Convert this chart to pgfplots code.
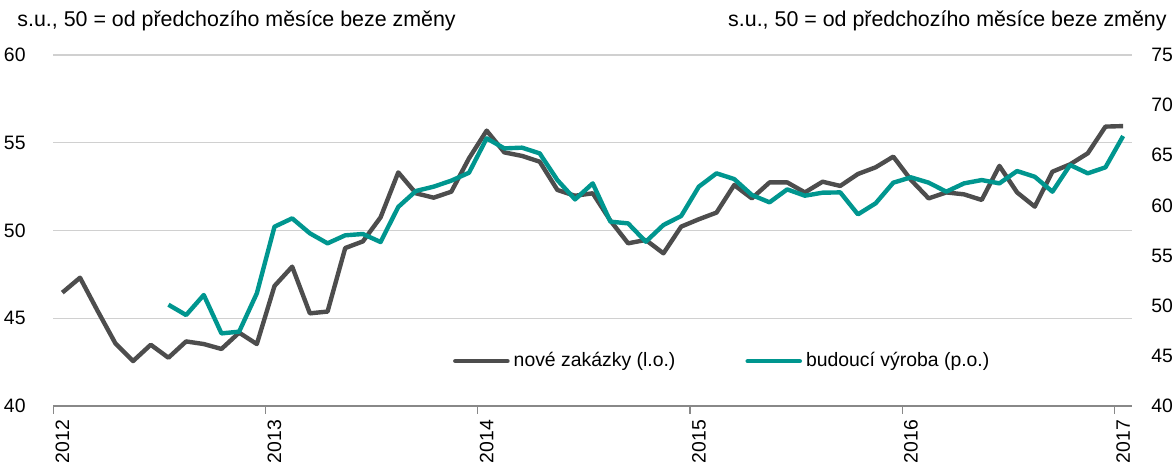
\documentclass[border=0pt]{standalone}
\usepackage{fontspec}
\setmainfont{Liberation Sans}
\usepackage{pgfplots}
\usepackage{pgfplotstable}
\pgfplotsset{compat=1.18}
\definecolor{zakGray}{HTML}{4D4D4D}
\definecolor{vyrTeal}{HTML}{00968F}
\definecolor{gridGray}{HTML}{D0D0D0}
\definecolor{axGray}{HTML}{888888}
\newcommand{\chartfont}{\fontsize{9.7}{11}\selectfont}
\newcommand{\titlefont}{\fontsize{10.7}{12}\selectfont}

% month index: 0 = leden 2012 ... 60 = leden 2017
\pgfplotstableread{
m  val
0  46.46
1  47.31
2  45.41
3  43.57
4  42.56
5  43.49
6  42.75
7  43.68
8  43.53
9  43.25
10 44.18
11 43.53
12 46.84
13 47.94
14 45.28
15 45.38
16 49.00
17 49.38
18 50.75
19 53.31
20 52.12
21 51.87
22 52.21
23 54.11
24 55.69
25 54.45
26 54.25
27 53.92
28 52.31
29 51.98
30 52.12
31 50.56
32 49.27
33 49.46
34 48.70
35 50.22
36 50.64
37 51.02
38 52.59
39 51.83
40 52.74
41 52.74
42 52.17
43 52.78
44 52.54
45 53.22
46 53.60
47 54.21
48 52.88
49 51.83
50 52.17
51 52.06
52 51.74
53 53.68
54 52.17
55 51.36
56 53.35
57 53.77
58 54.40
59 55.92
60 55.95
}\zakazky

\pgfplotstableread{
m  val
6  50.10
7  49.07
8  51.07
9  47.24
10 47.41
11 51.23
12 57.88
13 58.71
14 57.22
15 56.22
16 57.02
17 57.15
18 56.35
19 59.85
20 61.44
21 61.87
22 62.47
23 63.26
24 66.69
25 65.69
26 65.76
27 65.19
28 62.53
29 60.60
30 62.20
31 58.38
32 58.21
33 56.38
34 58.05
35 58.94
36 61.87
37 63.20
38 62.63
39 61.04
40 60.31
41 61.60
42 60.97
43 61.27
44 61.30
45 59.11
46 60.21
47 62.27
48 62.80
49 62.27
50 61.37
51 62.20
52 62.53
53 62.20
54 63.43
55 62.86
56 61.37
57 64.03
58 63.20
59 63.80
60 66.92
}\vyroba

\pgfplotsset{czpanel/.style={
  scale only axis, at={(26.75pt,30pt)}, anchor=south west,
  width=539.25pt, height=175.5pt,
  xmin=-0.5, xmax=60.5,
  font=\chartfont,
  tick label style={font=\chartfont,/pgf/number format/assume math mode=true},
  y axis line style={draw=none},
  ytick style={draw=none},
}}

\begin{document}
\begin{tikzpicture}
\path[use as bounding box] (0,0) rectangle (587.5pt,233pt);

\begin{axis}[
  czpanel,
  ymin=40, ymax=60, ytick={40,45,...,60},
  axis x line*=bottom, axis y line*=left,
  x axis line style={draw=axGray,line width=0.6pt},
  ymajorgrids, grid style={gridGray,line width=0.6pt},
  xtick={0,12,...,60},
  xticklabels={2012,2013,2014,2015,2016,2017},
  major x tick style={draw=none},
  minor xtick={-0.5,11.5,23.5,35.5,47.5,59.5},
  minor x tick style={draw=axGray,line width=0.6pt},
  minor tick length=4pt,
  tick align=outside,
  x tick label style={rotate=90,anchor=east,inner sep=0pt},
  xticklabel shift=2.5pt,
  y tick label style={anchor=east,inner sep=0pt},
  yticklabel shift=9.5pt,
  legend style={draw=none,fill=none,at={(0.621,0.128)},anchor=center,
    font=\chartfont,inner sep=0pt,
    /tikz/every even column/.append style={column sep=33pt}},
  legend columns=2,
  legend image code/.code={\draw[#1,line cap=round] (0pt,0pt) -- (26pt,0pt);},
  legend cell align=left,
]
\addlegendimage{zakGray,line width=2.3pt}
\addlegendentry{nové zakázky (l.o.)}
\addlegendimage{vyrTeal,line width=2.3pt}
\addlegendentry{budoucí výroba (p.o.)}
\addplot[zakGray,line width=2.2pt,line join=round,mark=none,forget plot]
  table[x=m,y=val] {\zakazky};
\end{axis}

\begin{axis}[
  czpanel,
  ymin=40, ymax=75, ytick={40,45,...,75},
  axis x line=none, axis y line*=right,
  y tick label style={anchor=west,inner sep=0pt},
  yticklabel shift=9.5pt,
]
\addplot[vyrTeal,line width=2.2pt,line join=round,mark=none]
  table[x=m,y=val] {\vyroba};
\end{axis}

\node[anchor=base west,font=\titlefont,inner sep=0pt] at (8.5pt,219.5pt)
  {s.u., 50 = od předchozího měsíce beze změny};
\node[anchor=base east,font=\titlefont,inner sep=0pt] at (583.5pt,219.5pt)
  {s.u., 50 = od předchozího měsíce beze změny};
\end{tikzpicture}
\end{document}
